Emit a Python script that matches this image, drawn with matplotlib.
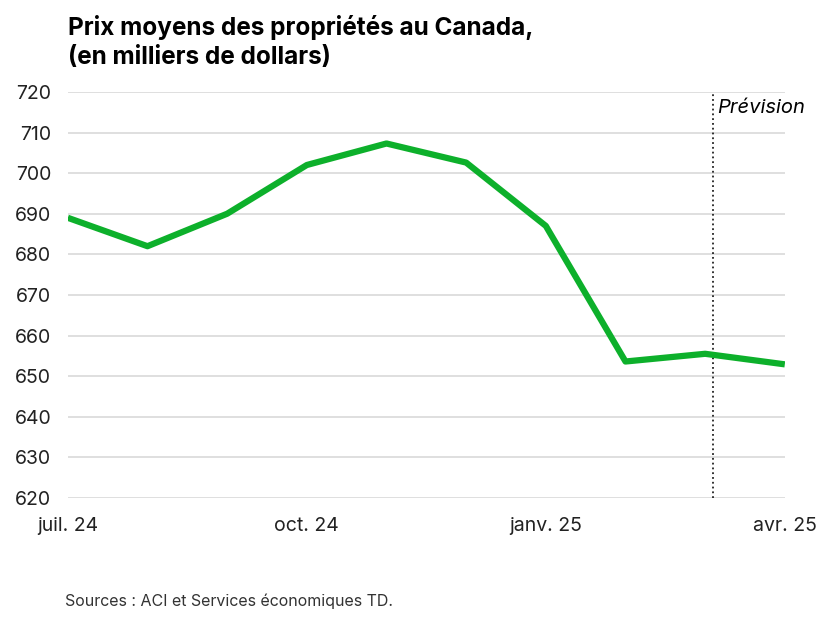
import matplotlib.pyplot as plt

months = ["juil. 24", "août 24", "sept. 24", "oct. 24", "nov. 24", "déc. 24",
          "janv. 25", "févr. 25", "mars 25", "avr. 25"]
prices = [689, 682, 690, 702, 707.3, 702.6, 687, 653.6, 655.5, 652.9]
tick_idx = [0, 3, 6, 9]
forecast_x = 8.1

plt.rcParams['font.family'] = ['Inter', 'DejaVu Sans']
fig = plt.figure(figsize=(8.27, 6.17), dpi=100)
ax = fig.add_axes([0.082, 0.193, 0.867, 0.658])

x = list(range(len(prices)))
ax.plot(x, prices, color='#0db02b', linewidth=4.5, solid_capstyle='butt', zorder=3)
ax.axvline(forecast_x, color='#222222', linestyle=':', linewidth=1.3)
ax.text(forecast_x + 0.05, 716, "Prévision", style='italic', fontsize=14.5, va='center', ha='left')

ax.set_xlim(0, 9)
ax.set_ylim(620, 720)
ax.set_yticks(range(620, 721, 10))
ax.yaxis.grid(True, color='#d9d9d9', linewidth=1.2)
ax.set_axisbelow(True)
ax.set_xticks(tick_idx)
ax.set_xticklabels([months[i] for i in tick_idx])
ax.tick_params(axis='both', length=0, labelsize=14, colors='#222222')
ax.tick_params(axis='x', pad=14)
ax.tick_params(axis='y', pad=12)
for s in ax.spines.values():
    s.set_visible(False)

fig.text(0.082, 0.975, "Prix moyens des propriétés au Canada,\n(en milliers de dollars)",
         fontsize=17.5, fontweight='bold', va='top', ha='left', linespacing=1.3)
fig.text(0.078, 0.018, "Sources : ACI et Services économiques TD.", fontsize=11.5, color='#333333')

fig.savefig("out.png", dpi=100)
